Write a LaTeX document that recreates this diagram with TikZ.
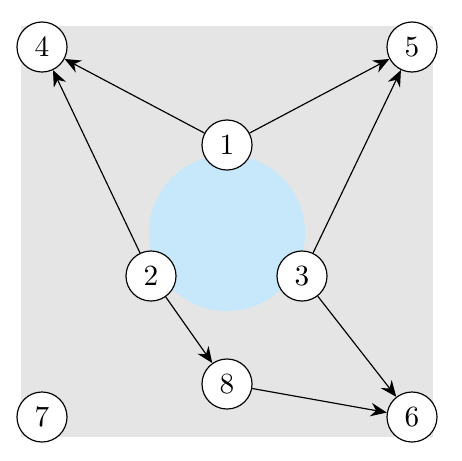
\documentclass[tikz,border=0pt]{standalone}
\usepackage{tikz}
\usetikzlibrary{arrows.meta}
\definecolor{zoneblue}{RGB}{198,232,250}

\begin{document}
\begin{tikzpicture}[
    x=0.012cm, y=-0.012cm,
    vertex/.style={circle, draw=black, fill=white, minimum size=0.6cm, inner sep=0pt},
    arrow/.style={-{Stealth[length=5.5pt, width=4.6pt, inset=1.8pt]}}
]
\useasboundingbox (0,0) rectangle (461,461);

% Background
\fill[gray!20] (21,26) rectangle (433,437);
\fill[zoneblue] (227,233) circle[radius=0.936cm];

% Nodes
\node[vertex] (n1) at (227,145) {1};
\node[vertex] (n2) at (151,276) {2};
\node[vertex] (n3) at (302,276) {3};
\node[vertex] (n4) at (42,47) {4};
\node[vertex] (n5) at (412,47) {5};
\node[vertex] (n6) at (412,417) {6};
\node[vertex] (n7) at (42,417) {7};
\node[vertex] (n8) at (227,384) {8};

% Edges
\draw[arrow] (n1) -- (n4);
\draw[arrow] (n1) -- (n5);
\draw[arrow] (n2) -- (n4);
\draw[arrow] (n3) -- (n5);
\draw[arrow] (n2) -- (n8);
\draw[arrow] (n3) -- (n6);
\draw[arrow] (n8) -- (n6);

\end{tikzpicture}
\end{document}
